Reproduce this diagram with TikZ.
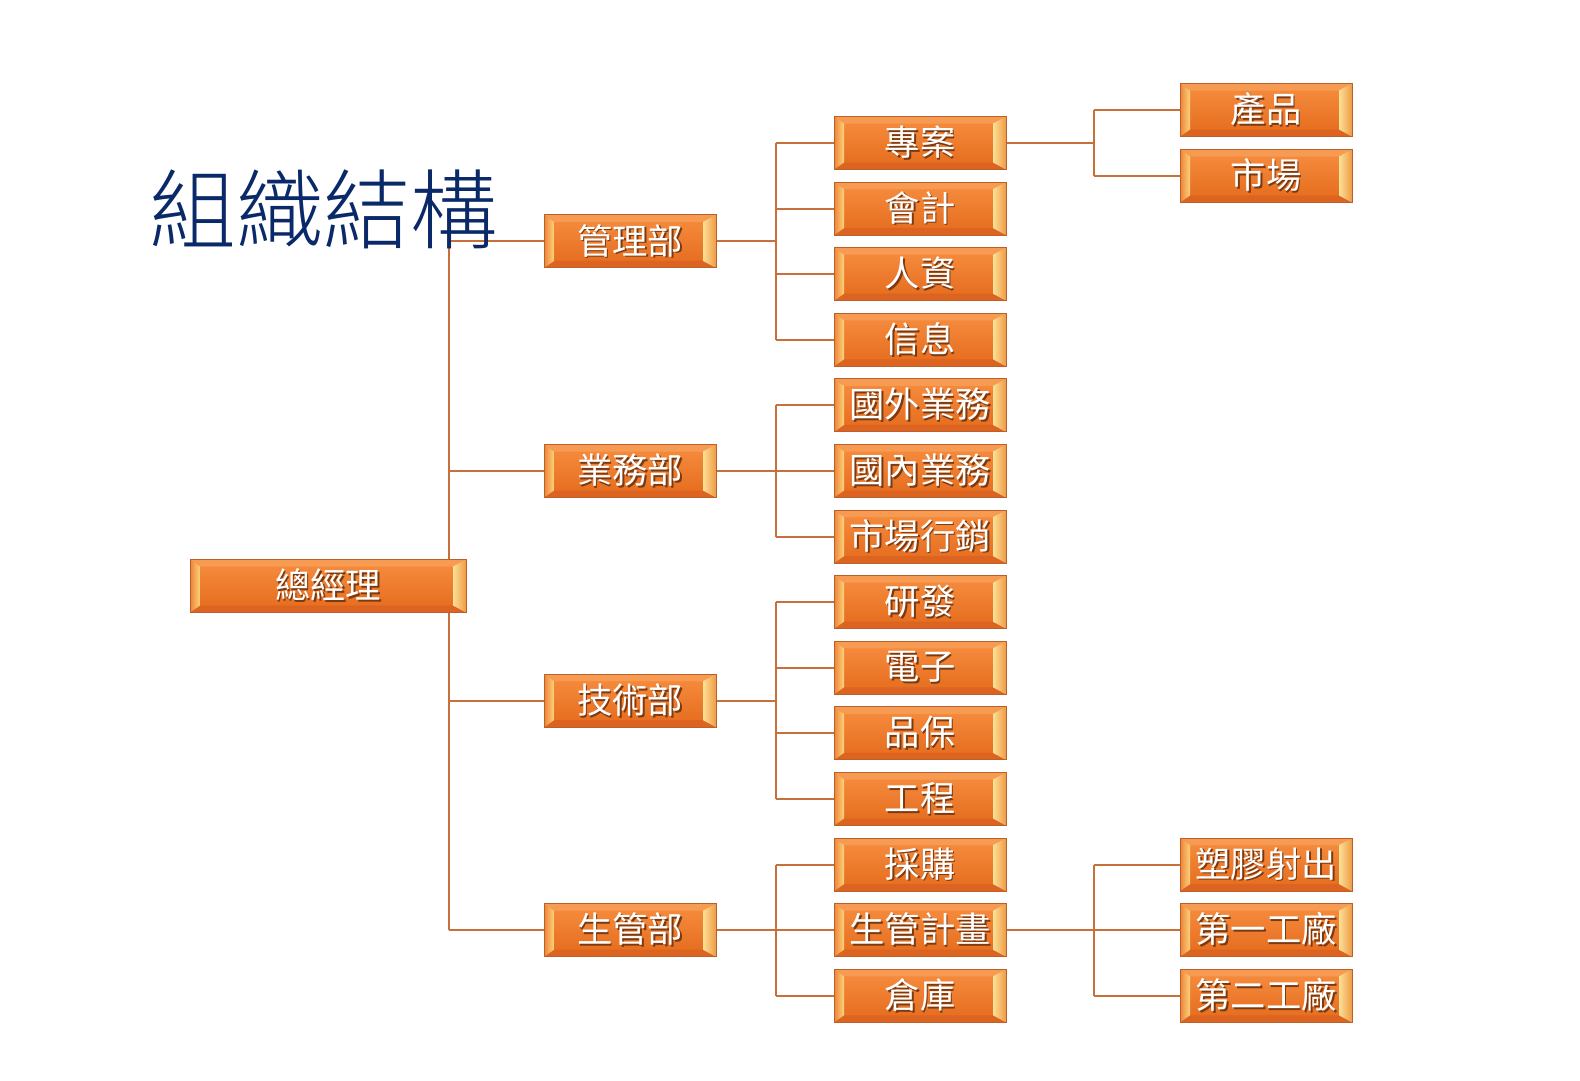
\documentclass[tikz,border=0pt]{standalone}
\usepackage{fontspec}
\newfontfamily\cjk{Noto Sans CJK TC}
\newfontfamily\titlefont{Noto Sans CJK TC Light}
\definecolor{boxtop}{HTML}{F78E40}
\definecolor{boxbot}{HTML}{E46A1C}
\definecolor{boxedge}{HTML}{B8612C}
\definecolor{bevRa}{HTML}{FBE096}
\definecolor{bevRb}{HTML}{EF9A44}
\definecolor{bevLa}{HTML}{F08236}
\definecolor{bevLb}{HTML}{FAD47C}
\definecolor{bevT}{HTML}{F79A52}
\definecolor{bevB}{HTML}{DC6420}
\definecolor{conncol}{HTML}{C8703C}
\definecolor{titlecol}{HTML}{0A2968}
\definecolor{shad}{HTML}{7A3A12}
\newcommand\shtext[1]{\leavevmode\rlap{\kern1.8pt\raisebox{-1.8pt}{\textcolor{shad}{#1}}}#1}
\pgfdeclarelayer{background}
\pgfsetlayers{background,main}
\tikzset{
  orgbox/.style={rectangle, minimum height=53, minimum width=172, inner sep=0pt,
    text=white, font=\cjk\fontsize{35.3}{36}\selectfont,
    top color=boxtop, bottom color=boxbot, draw=boxedge, line width=1pt,
    path picture={
      \fill[bevT] (path picture bounding box.north west) -- (path picture bounding box.north east)
        -- ([xshift=-13pt,yshift=-7pt]path picture bounding box.north east)
        -- ([xshift=10pt,yshift=-7pt]path picture bounding box.north west) -- cycle;
      \fill[bevB] (path picture bounding box.south west) -- (path picture bounding box.south east)
        -- ([xshift=-13pt,yshift=7pt]path picture bounding box.south east)
        -- ([xshift=10pt,yshift=7pt]path picture bounding box.south west) -- cycle;
      \shade[left color=bevRa, right color=bevRb]
        (path picture bounding box.north east) -- (path picture bounding box.south east)
        -- ([xshift=-13pt,yshift=7pt]path picture bounding box.south east)
        -- ([xshift=-13pt,yshift=-7pt]path picture bounding box.north east) -- cycle;
      \shade[left color=bevLa, right color=bevLb]
        (path picture bounding box.north west) -- (path picture bounding box.south west)
        -- ([xshift=10pt,yshift=7pt]path picture bounding box.south west)
        -- ([xshift=10pt,yshift=-7pt]path picture bounding box.north west) -- cycle;
    }},
  conn/.style={draw=conncol, line width=2pt},
}
\begin{document}
\begin{tikzpicture}[x=1pt,y=-1pt]
\useasboundingbox (0,0) rectangle (1580,1080);
% title
\node[text=titlecol, font=\titlefont\fontsize{87}{90}\selectfont, inner sep=0pt] (title) at (323,209) {組織結構};
% general manager
\node[orgbox, minimum width=276] (gm) at (328,586) {\shtext{總經理}};
% level 1 boxes
\node[orgbox] (m1) at (630,241.4) {\shtext{管理部}};
\node[orgbox] (m2) at (630,471) {\shtext{業務部}};
\node[orgbox] (m3) at (630,700.7) {\shtext{技術部}};
\node[orgbox] (m4) at (630,930.2) {\shtext{生管部}};
% level 2 boxes
\node[orgbox] (a1) at (920,143) {\shtext{專案}};
\node[orgbox] (a2) at (920,208.6) {\shtext{會計}};
\node[orgbox] (a3) at (920,274.2) {\shtext{人資}};
\node[orgbox] (a4) at (920,339.8) {\shtext{信息}};
\node[orgbox] (b1) at (920,405.4) {\shtext{國外業務}};
\node[orgbox] (b2) at (920,471) {\shtext{國內業務}};
\node[orgbox] (b3) at (920,536.6) {\shtext{市場行銷}};
\node[orgbox] (t1) at (920,602.2) {\shtext{研發}};
\node[orgbox] (t2) at (920,667.8) {\shtext{電子}};
\node[orgbox] (t3) at (920,733.4) {\shtext{品保}};
\node[orgbox] (t4) at (920,799) {\shtext{工程}};
\node[orgbox] (p1) at (920,864.6) {\shtext{採購}};
\node[orgbox] (p2) at (920,930.2) {\shtext{生管計畫}};
\node[orgbox] (p3) at (920,995.8) {\shtext{倉庫}};
% level 3 boxes
\node[orgbox] (x1) at (1266,110) {\shtext{產品}};
\node[orgbox] (x2) at (1266,176) {\shtext{市場}};
\node[orgbox] (y1) at (1266,864.6) {\shtext{塑膠射出}};
\node[orgbox] (y2) at (1266,930.2) {\shtext{第一工廠}};
\node[orgbox] (y3) at (1266,995.8) {\shtext{第二工廠}};
% bus positions
\coordinate (tk) at (449,0);
\coordinate (bA) at (776,0);
\coordinate (bB) at (1094,0);
\begin{pgfonlayer}{background}
  \fill[white] (0,0) rectangle (1580,1080);
  % trunk from general manager
  \draw[conn] (m1.west -| tk) -- (m4.west -| tk);
  \foreach \m in {m1,m2,m3,m4}{
    \draw[conn] (\m.west -| tk) -- (\m.west);
  }
  % level 1 to level 2
  \foreach \m/\first/\last/\kids in {m1/a1/a4/{a1,a2,a3,a4}, m2/b1/b3/{b1,b2,b3}, m3/t1/t4/{t1,t2,t3,t4}, m4/p1/p3/{p1,p2,p3}}{
    \draw[conn] (\m.east) -- (\m.east -| bA);
    \draw[conn] (\first.west -| bA) -- (\last.west -| bA);
    \foreach \c in \kids {
      \draw[conn] (\c.west -| bA) -- (\c.west);
    }
  }
  % level 2 to level 3
  \draw[conn] (a1.east) -- (a1.east -| bB);
  \draw[conn] (x1.west -| bB) -- (x2.west -| bB);
  \foreach \c in {x1,x2}{ \draw[conn] (\c.west -| bB) -- (\c.west); }
  \draw[conn] (p2.east) -- (p2.east -| bB);
  \draw[conn] (y1.west -| bB) -- (y3.west -| bB);
  \foreach \c in {y1,y2,y3}{ \draw[conn] (\c.west -| bB) -- (\c.west); }
\end{pgfonlayer}
\end{tikzpicture}
\end{document}
